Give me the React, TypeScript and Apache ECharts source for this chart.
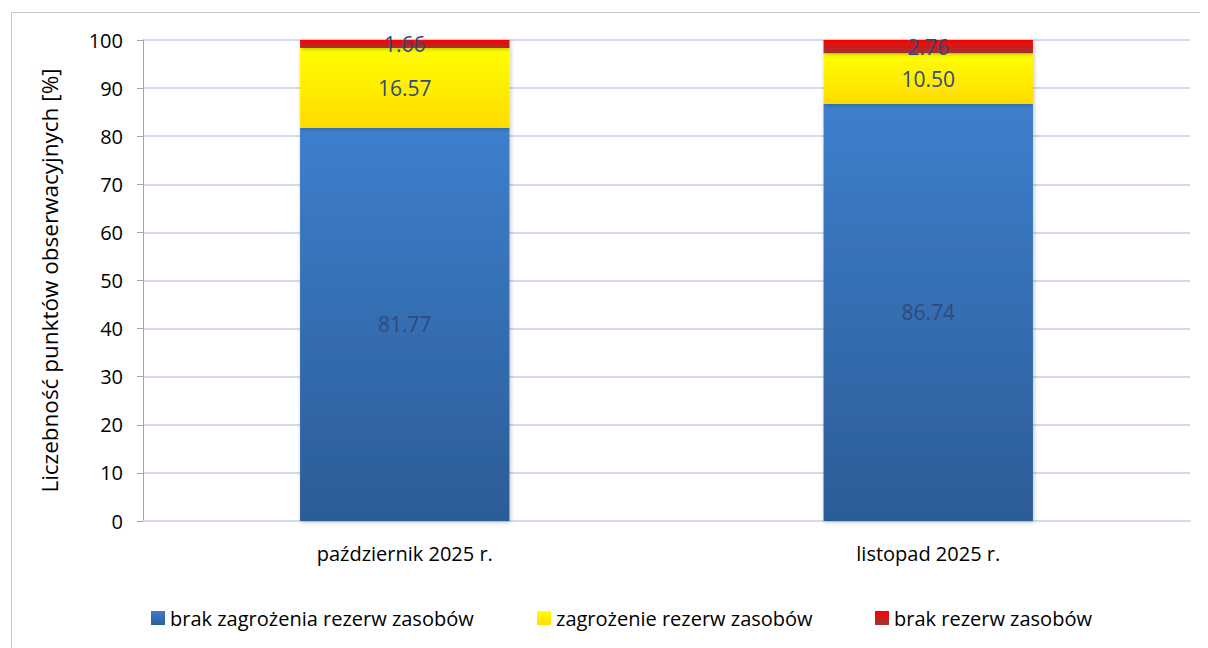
import React, { useEffect, useRef } from "react";
import * as echarts from "echarts";

const categories = ["październik 2025 r.", "listopad 2025 r."];
const seriesNames = ["brak zagrożenia rezerw zasobów", "zagrożenie rezerw zasobów", "brak rezerw zasobów"];
const noThreat = [81.77, 86.74];
const threat = [16.57, 10.5];
const noReserve = [1.66, 2.76];

const FONT = "'Open Sans', Lato, sans-serif";

const grad = (top: string, bottom: string) =>
  new echarts.graphic.LinearGradient(0, 0, 0, 1, [
    { offset: 0, color: top },
    { offset: 1, color: bottom },
  ]);

export default function App() {
  const ref = useRef<HTMLDivElement>(null);
  useEffect(() => {
    if (!ref.current) return;
    const chart = echarts.init(ref.current, null, { renderer: "svg" });
    const colors = [grad("#3d7fcc", "#2c5c97"), grad("#ffff00", "#ffdc00"), grad("#ff0000", "#9e3636")];
    const mk = (name: string, data: number[], i: number) => ({
      name,
      type: "bar",
      stack: "total",
      data,
      barWidth: "40%",
      itemStyle: {
        color: colors[i],
        shadowBlur: 4,
        shadowColor: "rgba(0,0,0,0.25)",
        shadowOffsetX: 1,
        shadowOffsetY: 1,
      },
      label: {
        show: true,
        position: "inside",
        formatter: (p: any) => Number(p.value).toFixed(2),
        color: "#2f4b7c",
        fontSize: 21,
        fontFamily: FONT,
      },
    });
    const legendPos = [138, 524, 862];
    chart.setOption({
      animation: false,
      backgroundColor: "#ffffff",
      grid: { left: 135, top: 32, right: 18, bottom: 127 },
      legend: seriesNames.map((n, i) => ({
        data: [n],
        left: legendPos[i],
        top: 595,
        itemWidth: 14,
        itemHeight: 14,
        itemGap: 6,
        icon: "rect",
        textStyle: { fontSize: 20, fontFamily: FONT, color: "#000", padding: [0, 0, 0, 0] },
      })),
      xAxis: {
        type: "category",
        data: categories,
        axisLine: { lineStyle: { color: "#d0dcec", width: 2 } },
        axisTick: { show: false },
        axisLabel: { fontSize: 20, fontFamily: FONT, color: "#000", margin: 22 },
      },
      yAxis: {
        type: "value",
        min: 0,
        max: 100,
        interval: 10,
        name: "Liczebność punktów obserwacyjnych [%]",
        nameLocation: "middle",
        nameGap: 82,
        nameTextStyle: { fontSize: 22.5, fontFamily: FONT, color: "#000" },
        axisLine: { show: true, lineStyle: { color: "#a6a6a6" } },
        axisTick: { show: true, length: 6, lineStyle: { color: "#a6a6a6" } },
        axisLabel: { fontSize: 20, fontFamily: FONT, color: "#000", margin: 20 },
        splitLine: { lineStyle: { color: "#d0dcec", width: 2 } },
      },
      graphic: [
        {
          type: "rect",
          left: 1,
          top: 2,
          shape: { width: 1260, height: 700 },
          style: { fill: "none", stroke: "#c8c8c8", lineWidth: 1 },
          silent: true,
          z: -10,
        },
      ],
      series: [mk(seriesNames[0], noThreat, 0), mk(seriesNames[1], threat, 1), mk(seriesNames[2], noReserve, 2)],
    });
    return () => chart.dispose();
  }, []);
  return <div ref={ref} style={{ width: 1200, height: 640 }} />;
}
